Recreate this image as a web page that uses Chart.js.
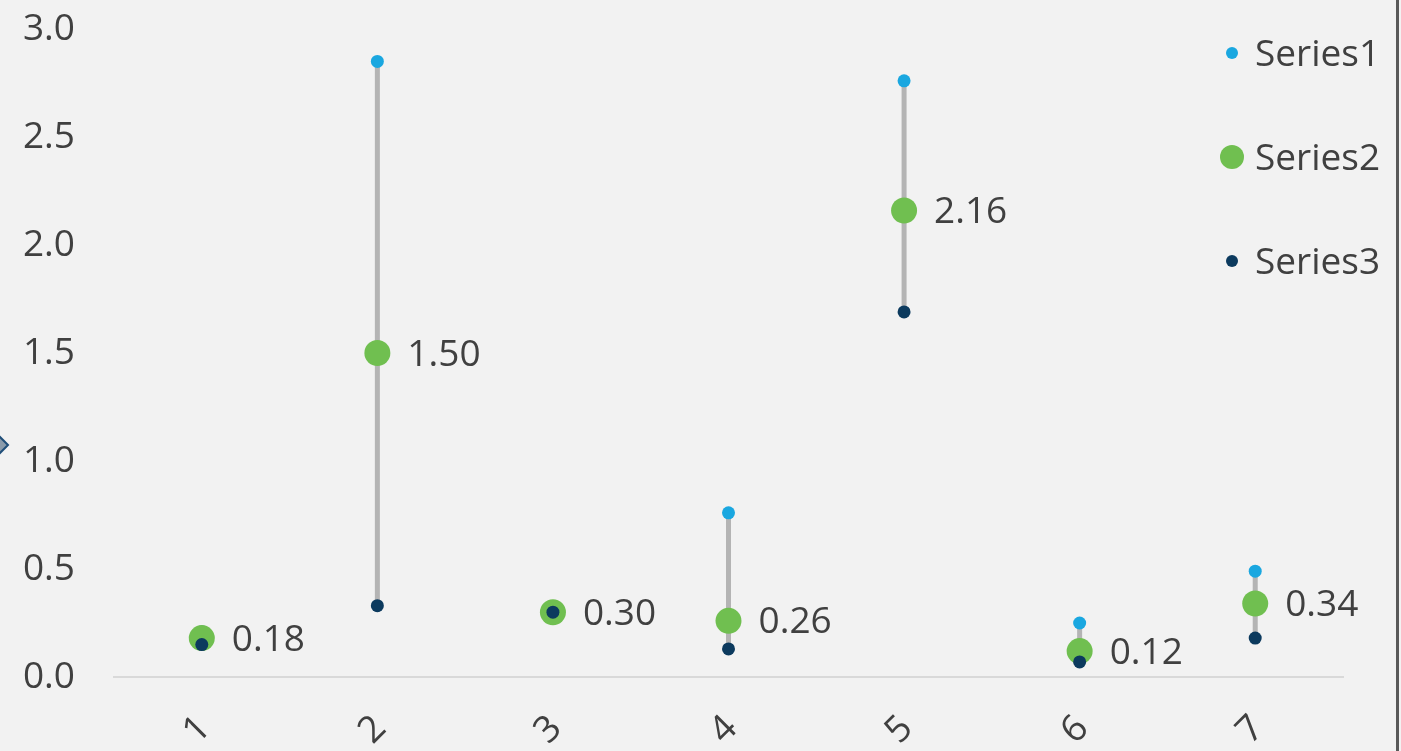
<!DOCTYPE html>
<html>
<head>
<meta charset="utf-8">
<script src="https://cdn.jsdelivr.net/npm/chart.js@4/dist/chart.umd.min.js"></script>
<style>
  html, body { margin: 0; padding: 0; background: #f2f2f2; }
  #wrap { width: 1401px; height: 751px; position: relative; }
</style>
</head>
<body>
<div id="wrap"><canvas id="chart" width="1401" height="751"></canvas></div>
<script>
// Categories and series
const categories = ['1', '2', '3', '4', '5', '6', '7'];
const series1 = [0.21, 2.85, 0.30, 0.76, 2.76, 0.25, 0.49]; // high
const series2 = [0.18, 1.50, 0.30, 0.26, 2.16, 0.12, 0.34]; // labelled middle value
const series3 = [0.15, 0.33, 0.30, 0.13, 1.69, 0.07, 0.18]; // low
const yTicks = [0, 0.5, 1.0, 1.5, 2.0, 2.5, 3.0];
const seriesNames = ['Series1', 'Series2', 'Series3'];

const FONT = '"Open Sans", "Liberation Sans", sans-serif';
const TEXT = '#404040';
const COLORS = ['#1aa7e0', '#70bf50', '#0c3a5e'];
const RADII = [6.5, 13, 6.5];
const PLOT_TOP = 29;

// vertical connector between high and low value of each category
const hiLoLines = {
  id: 'hiLoLines',
  beforeDatasetsDraw(chart) {
    const { ctx, scales: { x, y } } = chart;
    ctx.save();
    ctx.strokeStyle = '#b4b4b4';
    ctx.lineWidth = 5;
    categories.forEach((c, i) => {
      const px = x.getPixelForValue(i);
      ctx.beginPath();
      ctx.moveTo(px, y.getPixelForValue(series1[i]));
      ctx.lineTo(px, y.getPixelForValue(series3[i]));
      ctx.stroke();
    });
    ctx.restore();
  }
};

// value labels to the right of the Series2 markers, legend, frame details
const decorations = {
  id: 'decorations',
  afterDraw(chart) {
    const { ctx, scales: { x, y } } = chart;
    ctx.save();
    ctx.font = '37px ' + FONT;
    ctx.fillStyle = TEXT;
    ctx.textAlign = 'left';
    ctx.textBaseline = 'middle';
    series2.forEach((v, i) => {
      ctx.fillText(v.toFixed(2), x.getPixelForValue(i) + 30, y.getPixelForValue(v) + 2);
    });

    // legend
    const legendY = [53, 157, 261];
    seriesNames.forEach((name, i) => {
      ctx.beginPath();
      ctx.fillStyle = COLORS[i];
      ctx.arc(1232, legendY[i], i === 1 ? 12 : 6, 0, Math.PI * 2);
      ctx.fill();
      ctx.fillStyle = TEXT;
      ctx.fillText(name, 1255, legendY[i] + 2);
    });

    // right frame edge
    ctx.fillStyle = '#595959';
    ctx.fillRect(1396, 0, 3, 751);

    // selection handle at left edge
    ctx.beginPath();
    ctx.moveTo(8, 445);
    ctx.lineTo(0, 437);
    ctx.lineTo(-8, 445);
    ctx.lineTo(0, 453);
    ctx.closePath();
    ctx.fillStyle = '#8a9bab';
    ctx.fill();
    ctx.strokeStyle = '#1f4e79';
    ctx.lineWidth = 2;
    ctx.stroke();
    ctx.restore();
  }
};

const bgPlugin = {
  id: 'bg',
  beforeDraw(chart) {
    const { ctx } = chart;
    ctx.save();
    ctx.fillStyle = '#f2f2f2';
    ctx.fillRect(0, 0, chart.width, chart.height);
    ctx.restore();
  }
};

const makeSet = (label, data, i, order) => ({
  label,
  data,
  showLine: false,
  pointRadius: RADII[i],
  pointHoverRadius: RADII[i],
  pointBackgroundColor: COLORS[i],
  pointBorderWidth: 0,
  borderColor: COLORS[i],
  backgroundColor: COLORS[i],
  order
});

new Chart(document.getElementById('chart'), {
  type: 'line',
  data: {
    labels: categories,
    datasets: [
      makeSet(seriesNames[0], series1, 0, 3),
      makeSet(seriesNames[1], series2, 1, 2),
      makeSet(seriesNames[2], series3, 2, 1)
    ]
  },
  options: {
    responsive: false,
    animation: false,
    events: [],
    layout: { padding: { top: 0, right: 58, left: 0, bottom: 0 } },
    plugins: { legend: { display: false }, tooltip: { enabled: false } },
    scales: {
      x: {
        offset: true,
        grid: { display: false },
        border: { display: true, color: '#d9d9d9', width: 2 },
        ticks: {
          minRotation: 45, maxRotation: 45,
          padding: 22,
          labelOffset: 3,
          color: TEXT,
          font: { family: FONT, size: 37 }
        },
        afterFit(scale) { scale.height = 74; }
      },
      y: {
        min: 0, max: 3,
        grid: { display: false },
        border: { display: false },
        afterBuildTicks(scale) { scale.ticks = yTicks.map(v => ({ value: v })); },
        ticks: {
          padding: 31,
          color: TEXT,
          font: { family: FONT, size: 37 },
          callback: v => Number(v).toFixed(1)
        },
        afterFit(scale) {
          scale.width = 114;
          scale.paddingTop = PLOT_TOP;
        }
      }
    }
  },
  plugins: [bgPlugin, hiLoLines, decorations]
});
</script>
</body>
</html>
